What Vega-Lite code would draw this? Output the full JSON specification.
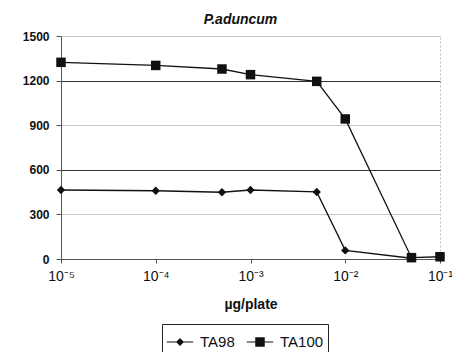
{
  "$schema": "https://vega.github.io/schema/vega-lite/v6.json",
  "autosize": "none",
  "width": 379,
  "height": 223,
  "padding": {"left": 61, "top": 36, "right": 12, "bottom": 93},
  "background": "white",
  "config": {
    "font": "Liberation Sans",
    "view": {"stroke": "#bbb", "strokeDash": [2, 2]}
  },
  "title": {
    "text": "P.aduncum",
    "fontStyle": "italic",
    "fontWeight": "bold",
    "fontSize": 14,
    "anchor": "middle",
    "dx": -10,
    "offset": 3,
    "color": "#111"
  },
  "data": {
    "values": [
      {"dose": 0.00001, "count": 464, "series": "TA98"},
      {"dose": 0.0001, "count": 459, "series": "TA98"},
      {"dose": 0.0005, "count": 449, "series": "TA98"},
      {"dose": 0.001, "count": 464, "series": "TA98"},
      {"dose": 0.005, "count": 451, "series": "TA98"},
      {"dose": 0.01, "count": 58, "series": "TA98"},
      {"dose": 0.05, "count": 5, "series": "TA98"},
      {"dose": 0.00001, "count": 1323, "series": "TA100"},
      {"dose": 0.0001, "count": 1302, "series": "TA100"},
      {"dose": 0.0005, "count": 1278, "series": "TA100"},
      {"dose": 0.001, "count": 1240, "series": "TA100"},
      {"dose": 0.005, "count": 1195, "series": "TA100"},
      {"dose": 0.01, "count": 942, "series": "TA100"},
      {"dose": 0.05, "count": 9, "series": "TA100"},
      {"dose": 0.1, "count": 15, "series": "TA100"}
    ]
  },
  "encoding": {
    "x": {
      "field": "dose",
      "type": "quantitative",
      "scale": {"type": "log", "domain": [0.00001, 0.1], "nice": false},
      "axis": {
        "values": [0.00001, 0.0001, 0.001, 0.01, 0.1],
        "labelExpr": "datum.value < 0.00005 ? '10⁻⁵' : datum.value < 0.0005 ? '10⁻⁴' : datum.value < 0.005 ? '10⁻³' : datum.value < 0.05 ? '10⁻²' : '10⁻¹'",
        "title": "µg/plate",
        "titleFontSize": 14,
        "titleFontWeight": "bold",
        "titleColor": "#111",
        "titlePadding": 14,
        "labelFontSize": 14,
        "labelColor": "#111",
        "labelPadding": 6,
        "labelFlush": false,
        "grid": false,
        "domainColor": "#555",
        "tickColor": "#555",
        "tickSize": 4
      }
    },
    "y": {
      "field": "count",
      "type": "quantitative",
      "scale": {"domain": [0, 1500], "nice": false},
      "axis": {
        "values": [0, 300, 600, 900, 1200, 1500],
        "format": "d",
        "title": null,
        "labelFontSize": 12,
        "labelFontWeight": "bold",
        "labelColor": "#111",
        "labelPadding": 7,
        "grid": true,
        "gridColor": {"condition": {"test": "datum.value === 600 || datum.value === 1200", "value": "#333"}, "value": "#c8c8c8"},
        "domainColor": "#555",
        "tickColor": "#555",
        "tickSize": 5
      }
    }
  },
  "resolve": {"scale": {"shape": "independent"}},
  "layer": [
    {
      "mark": {"type": "line", "color": "#111", "strokeWidth": 1.3},
      "encoding": {"detail": {"field": "series"}}
    },
    {
      "transform": [{"filter": "datum.series === 'TA98'"}],
      "mark": {"type": "point", "filled": true, "color": "#111", "opacity": 1, "shape": "diamond", "size": 70}
    },
    {
      "transform": [{"filter": "datum.series === 'TA100'"}],
      "mark": {"type": "point", "filled": true, "color": "#111", "opacity": 1, "shape": "square", "size": 90}
    },
    {
      "mark": {"type": "point", "filled": true, "color": "#111", "opacity": 0},
      "encoding": {
        "shape": {
          "field": "series",
          "type": "nominal",
          "sort": ["TA98", "TA100"],
          "scale": {
            "domain": ["TA98", "TA100"],
            "range": ["M-1,-0.045H1V0.045H-1ZM0,-0.3L0.3,0L0,0.3L-0.3,0Z", "M-1,-0.045H1V0.045H-1ZM-0.36,-0.36H0.36V0.36H-0.36Z"]
          },
          "legend": {
            "title": null,
            "orient": "none",
            "legendX": 101,
            "legendY": 288,
            "direction": "horizontal",
            "strokeColor": "#222",
            "padding": 4,
            "labelFontSize": 15,
            "labelColor": "#111",
            "symbolSize": 700,
            "symbolOpacity": 1,
            "symbolFillColor": "#111",
            "columnPadding": 8,
            "labelOffset": 6
          }
        }
      }
    }
  ]
}
